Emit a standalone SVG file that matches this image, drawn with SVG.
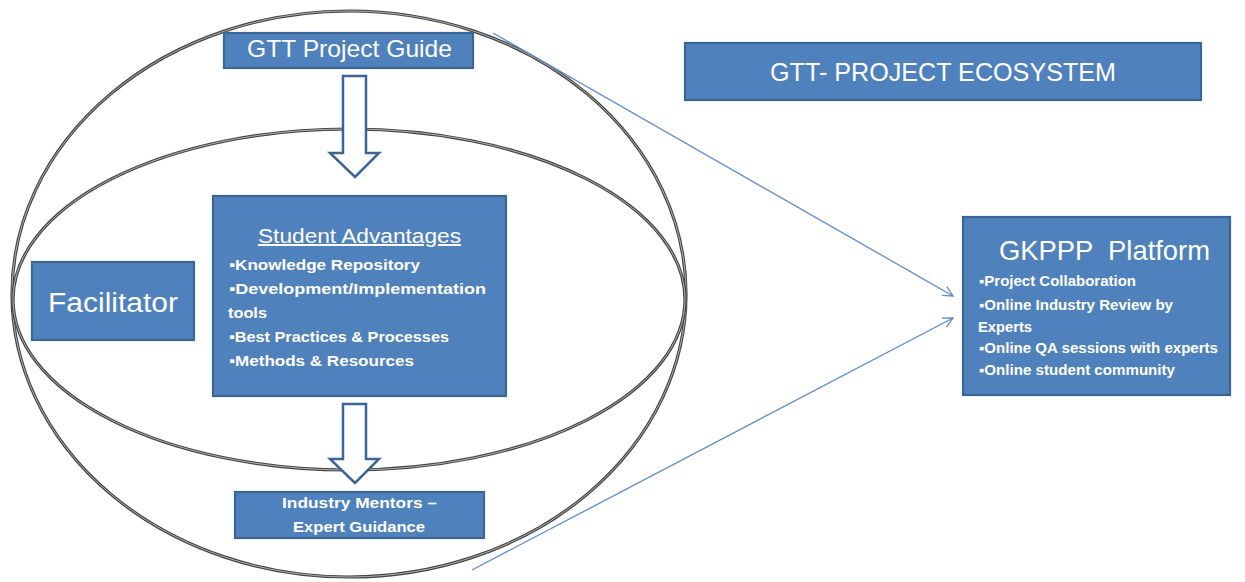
<svg xmlns="http://www.w3.org/2000/svg" width="1245" height="582" viewBox="0 0 1245 582">
<defs>
<style>
.box{fill:#4f81bd;stroke:#3a6597;stroke-width:2.2}
.t{fill:#ffffff;font-family:"Liberation Sans",Arial,sans-serif}
.b{font-weight:bold}
.ell{fill:none;stroke:#444;stroke-width:3.2}
.ell2{fill:none;stroke:#bbb;stroke-width:0.9}
.blk{fill:#ffffff;stroke:#3a6597;stroke-width:2.5;stroke-linejoin:miter}
.con{fill:none;stroke:#5b8cc8;stroke-width:1.3}
</style>
<marker id="open" viewBox="0 0 12 12" refX="11" refY="6" markerWidth="12" markerHeight="12" markerUnits="userSpaceOnUse" orient="auto">
<path d="M1,1 L11,6 L1,11" fill="none" stroke="#5b8cc8" stroke-width="1.3"/>
</marker>
</defs>
<rect width="1245" height="582" fill="#ffffff"/>
<g id="ellipses">
<ellipse class="ell" cx="349" cy="294" rx="337" ry="283"/>
<ellipse class="ell2" cx="349" cy="294" rx="337" ry="283"/>
<ellipse class="ell" cx="349" cy="299.5" rx="336" ry="170.5"/>
<ellipse class="ell2" cx="349" cy="299.5" rx="336" ry="170.5"/>
</g>
<g id="connectors">
<line class="con" x1="493" y1="33" x2="953" y2="296" marker-end="url(#open)"/>
<line class="con" x1="472" y1="570" x2="953" y2="318" marker-end="url(#open)"/>
<polygon class="blk" points="343,76 366,76 366,153 379,153 355,177 330,153 343,153"/>
<polygon class="blk" points="343,404 366,404 366,459 379,459 355,483 330,459 343,459"/>
</g>
<g id="guide">
<rect class="box" x="224" y="33" width="249" height="35"/>
<text class="t" x="349.5" y="57" font-size="24" text-anchor="middle" textLength="205" lengthAdjust="spacingAndGlyphs">GTT Project Guide</text>
</g>
<g id="ecosystem">
<rect class="box" x="685" y="43" width="516" height="57"/>
<text class="t" x="943" y="81" font-size="26" text-anchor="middle" textLength="346" lengthAdjust="spacingAndGlyphs">GTT- PROJECT ECOSYSTEM</text>
</g>
<g id="facilitator">
<rect class="box" x="32" y="262" width="162" height="78"/>
<text class="t" x="113" y="312" font-size="27" text-anchor="middle" textLength="130" lengthAdjust="spacingAndGlyphs">Facilitator</text>
</g>
<g id="advantages">
<rect class="box" x="213" y="196" width="293" height="200"/>
<text class="t" x="359.5" y="243" font-size="20" text-anchor="middle" text-decoration="underline" textLength="203" lengthAdjust="spacingAndGlyphs">Student Advantages</text>
<text class="t b" x="229" y="270" font-size="15" textLength="191" lengthAdjust="spacingAndGlyphs">▪Knowledge Repository</text>
<text class="t b" x="229" y="294" font-size="15" textLength="257" lengthAdjust="spacingAndGlyphs">▪Development/Implementation</text>
<text class="t b" x="228" y="318" font-size="15" textLength="39" lengthAdjust="spacingAndGlyphs">tools</text>
<text class="t b" x="229" y="342" font-size="15" textLength="220" lengthAdjust="spacingAndGlyphs">▪Best Practices &amp; Processes</text>
<text class="t b" x="229" y="366" font-size="15" textLength="185" lengthAdjust="spacingAndGlyphs">▪Methods &amp; Resources</text>
</g>
<g id="mentors">
<rect class="box" x="235" y="492" width="249" height="46"/>
<text class="t b" x="359.5" y="508" font-size="15" text-anchor="middle" textLength="155" lengthAdjust="spacingAndGlyphs">Industry Mentors –</text>
<text class="t b" x="359" y="532" font-size="15" text-anchor="middle" textLength="132" lengthAdjust="spacingAndGlyphs">Expert Guidance</text>
</g>
<g id="platform">
<rect class="box" x="963" y="217" width="267" height="178"/>
<text class="t" x="1104.5" y="260" font-size="28" text-anchor="middle" textLength="211" lengthAdjust="spacingAndGlyphs" style="white-space:pre" xml:space="preserve">GKPPP  Platform</text>
<text class="t b" x="979" y="286" font-size="14" textLength="157" lengthAdjust="spacingAndGlyphs">▪Project Collaboration</text>
<text class="t b" x="979" y="310" font-size="14" textLength="194" lengthAdjust="spacingAndGlyphs">▪Online Industry Review by</text>
<text class="t b" x="978" y="332" font-size="14" textLength="54" lengthAdjust="spacingAndGlyphs">Experts</text>
<text class="t b" x="979" y="353" font-size="14" textLength="239" lengthAdjust="spacingAndGlyphs">▪Online QA sessions with experts</text>
<text class="t b" x="979" y="375" font-size="14" textLength="196" lengthAdjust="spacingAndGlyphs">▪Online student community</text>
</g>
</svg>
